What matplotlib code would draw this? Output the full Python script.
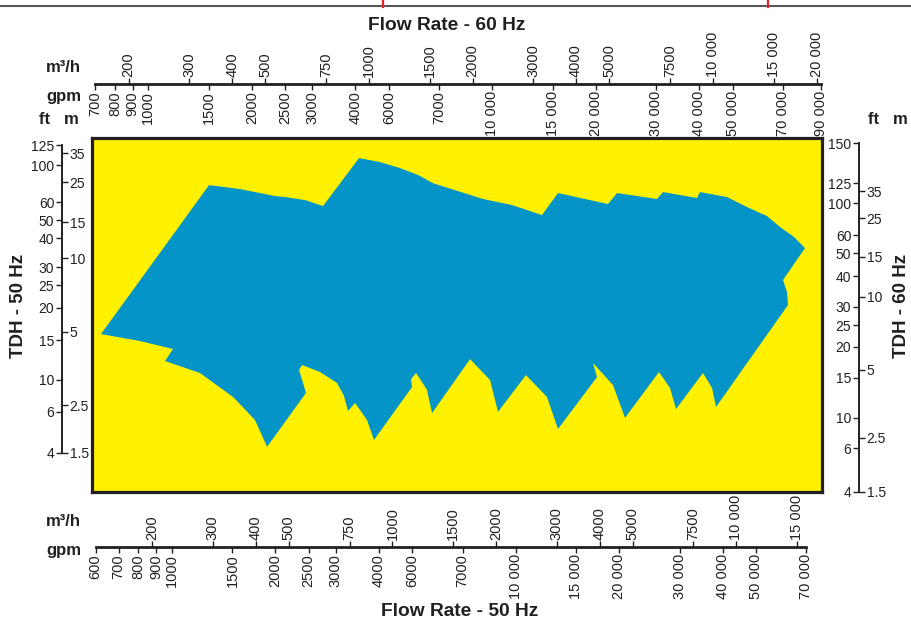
import matplotlib.pyplot as plt
from matplotlib.ticker import NullLocator
from matplotlib.lines import Line2D

plt.rcParams['font.family'] = ['Liberation Sans', 'DejaVu Sans']

# coverage area: flow (m3/h, 50 Hz) and head (m, 50 Hz)
flow = [142.1, 292.9, 360.6, 455.7, 487.1, 556.9, 628.2, 799.2, 920, 1051,
        1187, 1312, 1834, 2226, 2720, 3028, 4232, 4496, 5875, 6115,
        7680, 7834, 9386, 10730, 12270, 13385, 14703, 15822, 13656, 14030,
        14120, 8722, 8492, 7991, 6673, 6410, 5954, 4743, 4377, 3828,
        3932, 3028, 2813, 2444, 2027, 1921, 1681, 1303, 1260, 1171,
        1132, 1140, 883.7, 843.3, 778.2, 742.6, 722.9, 690.1, 615.8, 545.8,
        535.0, 560.6, 431.9, 398.5, 344.1, 275.7, 218.2, 230.1, 184.6]
head = [5.23, 25.0, 23.98, 22.28, 22.05, 21.37, 20.06, 33.2, 31.85, 29.9,
        27.8, 25.5, 21.6, 20.28, 18.25, 23.0, 20.49, 23.0, 21.6, 23.24,
        21.83, 23.24, 22.05, 19.86, 18.06, 16.1, 14.5, 12.9, 9.23, 8.13,
        7.10, 2.43, 2.97, 3.475, 2.38, 2.97, 3.51, 2.17, 3.06, 3.86,
        3.33, 1.93, 2.70, 3.40, 2.31, 3.23, 4.02, 2.28, 2.91, 3.475,
        3.26, 3.0, 1.72, 2.12, 2.54, 2.33, 2.73, 3.13, 3.51, 3.78,
        3.59, 2.82, 1.60, 2.12, 2.70, 3.475, 3.94, 4.47, 4.86]

# flow scales
m3h_50 = [200, 300, 400, 500, 750, 1000, 1500, 2000, 3000, 4000, 5000, 7500, 10000, 15000]
gpm_50 = [600, 700, 800, 900, 1000, 1500, 2000, 2500, 3000, 4000, 5000, 7000,
          10000, 15000, 20000, 30000, 40000, 50000, 70000]
gpm_50_lbl = ['600', '700', '800', '900', '1000', '1500', '2000', '2500', '3000', '4000',
              '6000', '7000', '10 000', '15 000', '20 000', '30 000', '40 000', '50 000', '70 000']
m3h_60 = [200, 300, 400, 500, 750, 1000, 1500, 2000, 3000, 4000, 5000, 7500, 10000, 15000, 20000]
gpm_60 = [700, 800, 900, 1000, 1500, 2000, 2500, 3000, 4000, 5000, 7000,
          10000, 15000, 20000, 30000, 40000, 50000, 70000, 90000]
gpm_60_lbl = ['700', '800', '900', '1000', '1500', '2000', '2500', '3000', '4000', '6000',
              '7000', '10 000', '15 000', '20 000', '30 000', '40 000', '50 000', '70 000', '90 000']
hz_ratio = 1.17      # 60 Hz flow / 50 Hz flow on this chart
gpm_ratio = 4.38     # gpm per m3/h on this chart

# head scales: label values and the 50 Hz head (m) where each sits
ft_50 = [125, 100, 60, 50, 40, 30, 25, 20, 15, 10, 6, 4]
ft_50_at = [38.07, 30.86, 20.93, 17.32, 14.34, 10.57, 8.75, 6.88, 4.91, 3.23, 2.31, 1.5]
m_50 = [35, 25, 15, 10, 5, 2.5, 1.5]
m_50_at = [35.0, 25.8, 16.96, 11.62, 5.35, 2.48, 1.5]
ft_60 = [150, 125, 100, 60, 50, 40, 30, 25, 20, 15, 10, 6, 4]
ft_60_at = [38.88, 25.55, 20.71, 14.80, 12.25, 9.62, 6.95, 5.75, 4.57, 3.30, 2.17, 1.58, 1.0]
m_60 = [35, 25, 15, 10, 5, 2.5, 1.5]
m_60_at = [23.49, 17.69, 11.75, 7.72, 3.59, 1.76, 1.0]

ink = '#231f20'


def big(v):
    return '{:,}'.format(v).replace(',', ' ') if v >= 10000 else str(v)


fig = plt.figure(figsize=(9.11, 6.28), dpi=100)
ax = fig.add_axes([92 / 911, 136.4 / 628, 730 / 911, 353.6 / 628])
ax.set_xscale('log')
ax.set_yscale('log')
ax.set_xlim(133.8, 17730)
ax.set_ylim(1.0, 41.0)
ax.set_facecolor('#FFF100')
ax.fill(flow, head, color='#0494C8', lw=0)
ax.tick_params(which='both', bottom=False, left=False, labelbottom=False, labelleft=False)
for s in ax.spines.values():
    s.set_linewidth(2.3)
    s.set_color(ink)


def flow_axis(loc, side, k, ticks, labels, bounds=None):
    sec = ax.secondary_xaxis(loc, functions=(lambda x: x * k, lambda x: x / k))
    sec.set_alignment(side)
    sec.set_ticks(ticks, labels=labels)
    sec.xaxis.set_minor_locator(NullLocator())
    sec.tick_params(axis='x', length=4, width=1, pad=1, labelsize=10.5,
                    labelrotation=90, colors=ink)
    if bounds is None:
        sec.spines[side].set_visible(False)
    else:
        sec.spines[side].set_bounds(*bounds)
        sec.spines[side].set_linewidth(2)
        sec.spines[side].set_color(ink)


def head_axis(loc, side, pos, labels, lo, hi):
    sec = ax.secondary_yaxis(loc)
    sec.set_alignment(side)
    sec.set_ticks(pos, labels=['{:g}'.format(v) for v in labels])
    sec.yaxis.set_minor_locator(NullLocator())
    sec.tick_params(axis='y', length=4.5, width=1, pad=1, labelsize=10, colors=ink)
    sec.spines[side].set_bounds(lo, hi)
    sec.spines[side].set_linewidth(1.2)
    sec.spines[side].set_color(ink)


top_loc = (491.6 - 84) / 353.6
bot_loc = (491.6 - 547) / 353.6
flow_axis(top_loc, 'top', hz_ratio, m3h_60, [big(v) for v in m3h_60])
flow_axis(top_loc, 'bottom', hz_ratio * gpm_ratio, gpm_60, gpm_60_lbl, (gpm_60[0], gpm_60[-1]))
flow_axis(bot_loc, 'top', 1.0, m3h_50, [big(v) for v in m3h_50])
flow_axis(bot_loc, 'bottom', gpm_ratio, gpm_50, gpm_50_lbl, (gpm_50[0], gpm_50[-1]))

left_loc = (62 - 92) / 730
right_loc = (859 - 92) / 730
head_axis(left_loc, 'left', ft_50_at, ft_50, ft_50_at[-1], ft_50_at[0])
head_axis(left_loc, 'right', m_50_at, m_50, ft_50_at[-1], ft_50_at[0])
head_axis(right_loc, 'left', ft_60_at, ft_60, 1.0, ft_60_at[0])
head_axis(right_loc, 'right', m_60_at, m_60, 1.0, ft_60_at[0])

# titles and unit labels
bold = dict(weight='bold', color=ink, ha='center', va='center')
fig.text(447 / 911, 1 - 25 / 628, 'Flow Rate - 60 Hz', fontsize=13.8, **bold)
fig.text(460 / 911, 1 - 612 / 628, 'Flow Rate - 50 Hz', fontsize=13.8, **bold)
fig.text(19 / 911, 1 - 306 / 628, 'TDH - 50 Hz', rotation=90, fontsize=13.5, **bold)
fig.text(902 / 911, 1 - 306 / 628, 'TDH - 60 Hz', rotation=90, fontsize=13.5, **bold)
fig.text(63 / 911, 1 - 68 / 628, 'm³/h', fontsize=12, **bold)
fig.text(64 / 911, 1 - 97 / 628, 'gpm', fontsize=12, **bold)
fig.text(59 / 911, 1 - 120 / 628, 'ft   m', fontsize=12, **bold)
fig.text(888 / 911, 1 - 120 / 628, 'ft   m', fontsize=12, **bold)
fig.text(63 / 911, 1 - 522 / 628, 'm³/h', fontsize=12, **bold)
fig.text(64 / 911, 1 - 551 / 628, 'gpm', fontsize=12, **bold)

# page rule at the very top
fig.add_artist(Line2D([0, 1], [1 - 5.5 / 628] * 2, transform=fig.transFigure, color='#58595b', lw=1.5))
for xr in (383, 768):
    fig.add_artist(Line2D([xr / 911] * 2, [1, 1 - 7 / 628], transform=fig.transFigure, color='#e32228', lw=1.6))

fig.savefig('out.png', dpi=100)
